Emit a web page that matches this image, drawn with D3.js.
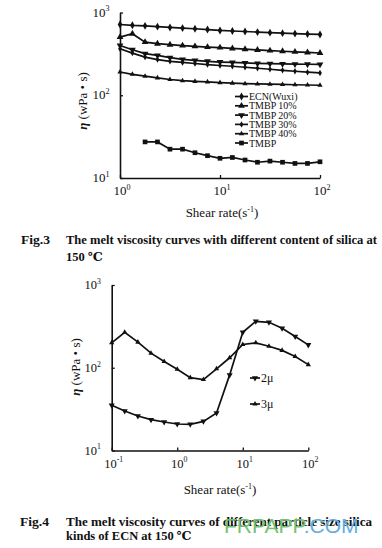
<!DOCTYPE html>
<html><head><meta charset="utf-8">
<script src="https://cdn.jsdelivr.net/npm/d3@7/dist/d3.min.js"></script>
<style>
html,body{margin:0;padding:0;background:#fff;}
svg{display:block;}
text{font-family:"Liberation Serif","DejaVu Serif",serif;fill:#111;}
</style></head>
<body>
<svg id="c" width="382" height="548"></svg>
<script>
// ---------- Fig.3 data ----------
const xTop = [1, 1.33, 1.78, 2.37, 3.16, 4.22, 5.62, 7.5, 10, 13.3, 17.8, 23.7, 31.6, 42.2, 56.2, 75, 100];
const ecnWuxi = [716, 700, 690, 675, 660, 648, 636, 622, 607, 598, 589, 580, 571, 563, 556, 549, 543];
const tmbp10 = [504, 553, 439, 420, 408, 398, 390, 382, 376, 368, 360, 353, 346, 340, 334, 329, 324];
const tmbp20 = [400, 355, 318, 303, 285, 271, 264, 257, 252, 249, 246, 243, 241, 239, 238, 237, 236];
const tmbp30 = [365, 323, 289, 270, 257, 249, 242, 235, 229, 224, 218, 212, 206, 200, 195, 190, 186];
const tmbp40 = [191, 179, 170, 162, 155, 150, 147, 145, 142, 140, 138, 137, 136, 135, 134, 133, 132];
const xTmbp = [1.78, 2.37, 3.16, 4.22, 5.62, 7.5, 10, 13.3, 17.8, 23.7, 31.6, 42.2, 56.2, 75, 100];
const tmbp = [27.3, 27.3, 22.3, 22.3, 20.2, 18.6, 17.3, 17.7, 16.5, 15.5, 16.0, 15.5, 15.0, 15.0, 15.7];
const topNames = ["ECN(Wuxi)", "TMBP 10%", "TMBP 20%", "TMBP 30%", "TMBP 40%", "TMBP"];

// ---------- Fig.4 data ----------
const xBottom = [0.1, 0.158, 0.251, 0.398, 0.631, 1, 1.58, 2.51, 3.98, 6.31, 10, 15.8, 25.1, 39.8, 63.1, 100];
const size3u = [200, 268, 204, 150, 119, 96, 76, 72, 97, 132, 191, 200, 182, 162, 137, 109];
const size2u = [35.2, 30.0, 26.1, 23.6, 22.1, 20.9, 20.7, 22.5, 28.4, 82, 268, 364, 354, 300, 238, 189];
const bottomNames = ["2\u03bc", "3\u03bc"];

const yTicks = [10, 100, 1000];
const yTickExp = ["1", "2", "3"];
const xTopTicks = [1, 10, 100];
const xTopExp = ["0", "1", "2"];
const xBotTicks = [0.1, 1, 10, 100];
const xBotExp = ["-1", "0", "1", "2"];

const svg = d3.select("#c");

function sym(type, rot) {
  return {type, rot};
}
const topSyms = [sym(d3.symbolDiamond,0), sym(d3.symbolTriangle,0), sym(d3.symbolTriangle,180), sym(d3.symbolDiamond,0), sym(d3.symbolTriangle,0), sym(d3.symbolSquare,0)];
const topSizes = [18, 20, 20, 12, 12, 22];

function powLabel(g, x, y, exp, anchor, fs) {
  const t = g.append("text").attr("x", x).attr("y", y).attr("text-anchor", anchor)
    .style("font-size", fs + "px");
  t.append("tspan").text("10");
  t.append("tspan").attr("dy", -fs*0.42).style("font-size", (fs*0.62) + "px").text(exp);
}

function drawChart(cfg) {
  const g = svg.append("g");
  const x = d3.scaleLog().domain(cfg.xDomain).range(cfg.xRange);
  const y = d3.scaleLog().domain([10, 1000]).range(cfg.yRange);
  // axes
  const ax = g.append("g").attr("transform", `translate(0,${cfg.yRange[0]})`)
    .call(d3.axisBottom(x).tickValues(cfg.xTicks).tickSize(-3).tickSizeOuter(0).tickFormat(() => ""));
  const ay = g.append("g").attr("transform", `translate(${cfg.xRange[0]},0)`)
    .call(d3.axisLeft(y).tickValues(yTicks).tickSize(-3).tickSizeOuter(0).tickFormat(() => ""));
  [ax, ay].forEach(a => {
    a.select(".domain").attr("stroke", "#111").attr("stroke-width", 1.6);
    a.selectAll(".tick line").attr("stroke", "#111").attr("stroke-width", 1.3);
  });
  // tick labels
  cfg.xTicks.forEach((v, i) => powLabel(g, x(v) + 2, cfg.yRange[0] + 17, cfg.xExp[i], "middle", cfg.fs));
  yTicks.forEach((v, i) => powLabel(g, cfg.xRange[0] - 19, y(v) + 4, yTickExp[i], "middle", cfg.fs));
  // axis titles
  const xt = g.append("text").attr("x", cfg.xTitle[0]).attr("y", cfg.xTitle[1]).attr("text-anchor", "middle")
    .style("font-size", "13px");
  xt.append("tspan").text("Shear rate(s");
  xt.append("tspan").attr("dy", -5).style("font-size", "8px").text("-1");
  xt.append("tspan").attr("dy", 5).text(")");
  const yt = g.append("text").attr("transform", `translate(${cfg.yTitle[0]},${cfg.yTitle[1]}) rotate(-90)`)
    .attr("text-anchor", "middle").style("font-size", "13px");
  yt.append("tspan").style("font-weight", "bold").style("font-style", "italic").text("\u03b7");
  yt.append("tspan").text(" (wPa \u2022 s)");
  // series
  const line = d3.line().x(d => x(d[0])).y(d => y(d[1]));
  cfg.series.forEach((s, i) => {
    const pts = s.xs.map((v, j) => [v, s.ys[j]]);
    g.append("path").datum(pts).attr("d", line).attr("fill", "none")
      .attr("stroke", "#111").attr("stroke-width", 1.7);
    g.selectAll(null).data(pts).enter().append("path")
      .attr("d", d3.symbol().type(s.sym.type).size(s.size))
      .attr("transform", d => `translate(${x(d[0])},${y(d[1])}) rotate(${s.sym.rot})`)
      .attr("fill", "#111");
  });
  // legend
  cfg.series.forEach((s, i) => {
    if (!s.name) return;
    const ly = cfg.legend[1] + i * cfg.legend[2];
    const lx = cfg.legend[0];
    g.append("line").attr("x1", lx).attr("x2", lx + cfg.legend[3]).attr("y1", ly).attr("y2", ly)
      .attr("stroke", "#111").attr("stroke-width", 1.7);
    g.append("path").attr("d", d3.symbol().type(s.sym.type).size(s.size))
      .attr("transform", `translate(${lx + cfg.legend[3] / 2},${ly}) rotate(${s.sym.rot})`).attr("fill", "#111");
    g.append("text").attr("x", lx + cfg.legend[3] + 1).attr("y", ly + 3.5)
      .style("font-size", cfg.legend[4] + "px").text(s.name);
  });
}

const topYs = [ecnWuxi, tmbp10, tmbp20, tmbp30, tmbp40, tmbp];
drawChart({
  xDomain: [1, 100], xRange: [120, 320], yRange: [178, 12.5],
  xTicks: xTopTicks, xExp: xTopExp, fs: 13,
  xTitle: [222, 217], yTitle: [87, 101],
  series: topYs.map((ys, i) => ({xs: i === 5 ? xTmbp : xTop, ys, name: topNames[i], sym: topSyms[i], size: topSizes[i]})),
  legend: [235, 96.5, 9.3, 13, 10]
});

drawChart({
  xDomain: [0.1, 100], xRange: [111.7, 308.3], yRange: [450.5, 285],
  xTicks: xBotTicks, xExp: xBotExp, fs: 12.5,
  xTitle: [220, 494], yTitle: [80, 367],
  series: [
    {xs: xBottom, ys: size2u, name: bottomNames[0], sym: sym(d3.symbolTriangle, 180), size: 16},
    {xs: xBottom, ys: size3u, name: bottomNames[1], sym: sym(d3.symbolTriangle, 0), size: 12}
  ],
  legend: [250, 378, 26, 10, 12]
});

// captions
function caption(x, y, txt, w) {
  const t = svg.append("text").attr("x", x).attr("y", y).style("font-size", "12.5px").style("font-weight", "bold").text(txt);
  if (w) t.attr("textLength", w).attr("lengthAdjust", "spacingAndGlyphs");
}
caption(21, 244, "Fig.3", 29);
caption(66, 244, "The melt viscosity curves with different content of silica at", 311);
caption(66, 261, "150 \u2103");
caption(20, 526, "Fig.4", 29);
caption(66, 526, "The melt viscosity curves of different particle size silica", 306);
caption(66, 540, "kinds of ECN at 150 \u2103");

// watermark (overlaps the caption, as in the reference)
const wm = svg.append("text").attr("x", 224).attr("y", 533)
  .style("font-family", "'Liberation Sans', Arial, sans-serif").style("font-size", "21px");
wm.append("tspan").style("fill", "#74c174").text("FRPAPP");
wm.append("tspan").style("fill", "#62ade0").text(".COM");
</script>
</body></html>
